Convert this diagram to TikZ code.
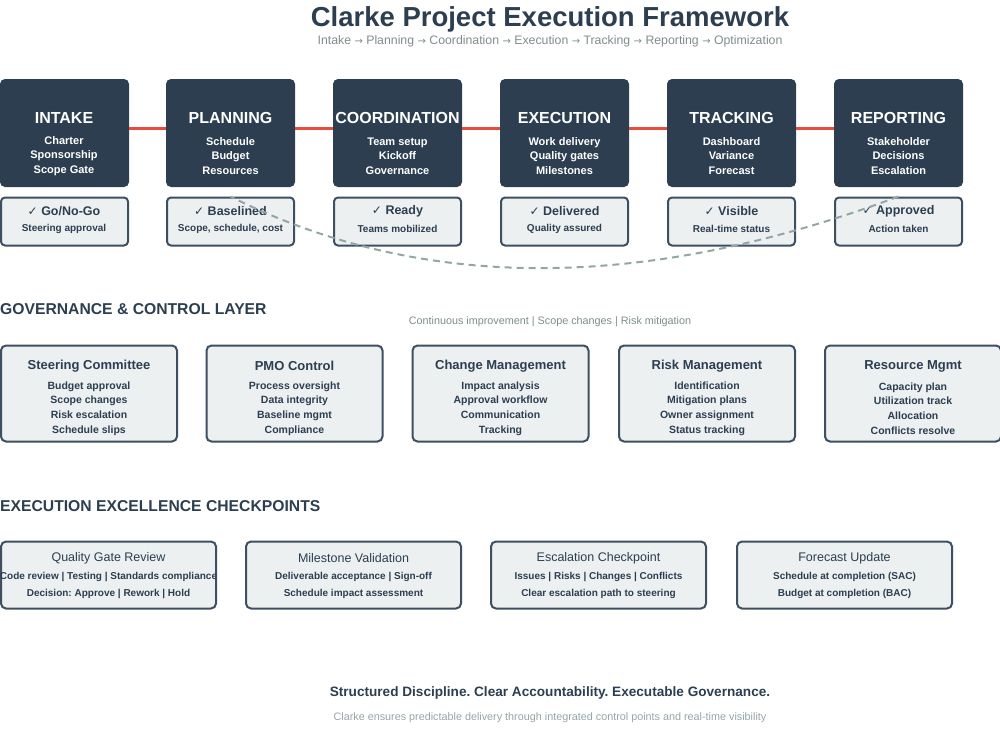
\documentclass[tikz,border=0pt]{standalone}
\usepackage{fontspec}
\setmainfont{Liberation Sans}
\newfontfamily\symfont{DejaVu Sans}
\definecolor{navy}{HTML}{2C3E50}
\definecolor{boxline}{HTML}{3D4F60}
\definecolor{boxfill}{HTML}{ECF0F1}
\definecolor{redline}{HTML}{E74C3C}
\definecolor{greytxt}{HTML}{7F8C8D}
\definecolor{lightgrey}{HTML}{95A5A6}
\definecolor{dashgrey}{HTML}{95A5A6}
\frenchspacing
\begin{document}
\begin{tikzpicture}[x=1pt,y=-1pt,
  every node/.style={inner sep=0pt},
  stagebox/.style={fill=navy, rounded corners=5pt, minimum width=129pt, minimum height=108pt},
  stagetitle/.style={text=white, font=\fontsize{16}{19}\selectfont\bfseries},
  stageitems/.style={text=white, align=center, font=\fontsize{11}{14.5}\selectfont\bfseries},
  checkbox/.style={draw=boxline, line width=2pt, fill=boxfill, rounded corners=4pt, minimum width=127pt, minimum height=48pt},
  checktitle/.style={text=navy, font=\fontsize{12.5}{15}\selectfont\bfseries},
  checksub/.style={text=navy, font=\fontsize{10}{12}\selectfont\bfseries},
  govbox/.style={draw=boxline, line width=2pt, fill=boxfill, rounded corners=5pt, minimum width=176pt, minimum height=96pt},
  govtitle/.style={text=navy, font=\fontsize{13}{15}\selectfont\bfseries},
  govitems/.style={text=navy, align=center, font=\fontsize{10.5}{14.7}\selectfont\bfseries},
  exbox/.style={draw=boxline, line width=2pt, fill=boxfill, rounded corners=5pt, minimum width=215pt, minimum height=67pt},
  extitle/.style={text=navy, font=\fontsize{12.5}{15}\selectfont},
  exitems/.style={text=navy, align=center, font=\fontsize{10}{17}\selectfont\bfseries},
  sectitle/.style={text=navy, anchor=west, font=\fontsize{15.7}{18}\selectfont\bfseries},
  link/.style={draw=redline, line width=3pt},
  loop/.style={draw=dashgrey, line width=2pt, dashed, dash pattern=on 7pt off 5pt}
]
\useasboundingbox (0,0) rectangle (1000,750);

% Title
\node[text=navy, font=\fontsize{27.5}{32}\selectfont\bfseries] (title) at (550,19.5) {Clarke Project Execution Framework};
\node[text=greytxt, font=\fontsize{12.3}{14}\selectfont] (subtitle) at (550,41.5) {Intake {\symfont\fontsize{10}{12}\selectfont →} Planning {\symfont\fontsize{10}{12}\selectfont →} Coordination {\symfont\fontsize{10}{12}\selectfont →} Execution {\symfont\fontsize{10}{12}\selectfont →} Tracking {\symfont\fontsize{10}{12}\selectfont →} Reporting {\symfont\fontsize{10}{12}\selectfont →} Optimization};

% Stage boxes
\node[stagebox] (s1) at (64.5,133) {};
\node[stagebox] (s2) at (230.5,133) {};
\node[stagebox] (s3) at (397.5,133) {};
\node[stagebox] (s4) at (564.5,133) {};
\node[stagebox] (s5) at (731.5,133) {};
\node[stagebox] (s6) at (898.5,133) {};

\draw[link] ([yshift=5pt]s1.east) -- ([yshift=5pt]s2.west);
\draw[link] ([yshift=5pt]s2.east) -- ([yshift=5pt]s3.west);
\draw[link] ([yshift=5pt]s3.east) -- ([yshift=5pt]s4.west);
\draw[link] ([yshift=5pt]s4.east) -- ([yshift=5pt]s5.west);
\draw[link] ([yshift=5pt]s5.east) -- ([yshift=5pt]s6.west);

\node[stagetitle] (t1) at (64,118) {INTAKE};
\node[stagetitle] (t2) at (230.5,118) {PLANNING};
\node[stagetitle] (t3) at (397.5,118) {COORDINATION};
\node[stagetitle] (t4) at (564.5,118) {EXECUTION};
\node[stagetitle] (t5) at (731.5,118) {TRACKING};
\node[stagetitle] (t6) at (898.5,118) {REPORTING};

\node[stageitems] (i1) at (64,156) {Charter\\Sponsorship\\Scope Gate};
\node[stageitems] (i2) at (230.5,156) {Schedule\\Budget\\Resources};
\node[stageitems] (i3) at (397.5,156) {Team setup\\Kickoff\\Governance};
\node[stageitems] (i4) at (564.5,156) {Work delivery\\Quality gates\\Milestones};
\node[stageitems] (i5) at (731.5,156) {Dashboard\\Variance\\Forecast};
\node[stageitems] (i6) at (898.5,156) {Stakeholder\\Decisions\\Escalation};

% Checkpoint boxes
\node[checkbox] (c1) at (64.5,221.5) {};
\node[checkbox] (c2) at (230.5,221.5) {};
\node[checkbox] (c3) at (397.5,221.5) {};
\node[checkbox] (c4) at (564.5,221.5) {};
\node[checkbox] (c5) at (731.5,221.5) {};
\node[checkbox] (c6) at (898.5,221.5) {};

\node[checktitle] (ct1) at (64,211.5) {{\symfont\fontsize{12}{14}\selectfont ✓} Go/No-Go};
\node[checktitle] (ct2) at (230.5,211.5) {{\symfont\fontsize{12}{14}\selectfont ✓} Baselined};
\node[checktitle] (ct3) at (397.5,211.5) {{\symfont\fontsize{12}{14}\selectfont ✓} Ready};
\node[checktitle] (ct4) at (564.5,211.5) {{\symfont\fontsize{12}{14}\selectfont ✓} Delivered};
\node[checktitle] (ct5) at (731.5,211.5) {{\symfont\fontsize{12}{14}\selectfont ✓} Visible};
\node[checktitle] (ct6) at (898.5,211.5) {{\symfont\fontsize{12}{14}\selectfont ✓} Approved};

\node[checksub] (cs1) at (64,228.5) {Steering approval};
\node[checksub] (cs2) at (230.5,228.5) {Scope, schedule, cost};
\node[checksub] (cs3) at (397.5,228.5) {Teams mobilized};
\node[checksub] (cs4) at (564.5,228.5) {Quality assured};
\node[checksub] (cs5) at (731.5,228.5) {Real-time status};
\node[checksub] (cs6) at (898.5,228.5) {Action taken};

% Feedback loop
\draw[loop] (c6.north) .. controls (643,292) and (421,292) .. (c2.north);

% Governance layer
\node[sectitle] (govhead) at (0,309) {GOVERNANCE \& CONTROL LAYER};
\node[text=greytxt, font=\fontsize{10.8}{13}\selectfont] (govnote) at (550,322) {Continuous improvement | Scope changes | Risk mitigation};

\node[govbox] (g1) at (89,393.5) {};
\node[govbox] (g2) at (294.5,393.5) {};
\node[govbox] (g3) at (500.5,393.5) {};
\node[govbox] (g4) at (707,393.5) {};
\node[govbox] (g5) at (913,393.5) {};

\node[govtitle] (gt1) at (89,366) {Steering Committee};
\node[govtitle] (gt2) at (294.5,366) {PMO Control};
\node[govtitle] (gt3) at (500.5,366) {Change Management};
\node[govtitle] (gt4) at (707,366) {Risk Management};
\node[govtitle] (gt5) at (913,366) {Resource Mgmt};

\node[govitems] (gi1) at (89,408.5) {Budget approval\\Scope changes\\Risk escalation\\Schedule slips};
\node[govitems] (gi2) at (294.5,408.5) {Process oversight\\Data integrity\\Baseline mgmt\\Compliance};
\node[govitems] (gi3) at (500.5,408.5) {Impact analysis\\Approval workflow\\Communication\\Tracking};
\node[govitems] (gi4) at (707,408.5) {Identification\\Mitigation plans\\Owner assignment\\Status tracking};
\node[govitems] (gi5) at (913,408.5) {Capacity plan\\Utilization track\\Allocation\\Conflicts resolve};

% Execution excellence checkpoints
\node[sectitle] (exhead) at (0,506) {EXECUTION EXCELLENCE CHECKPOINTS};

\node[exbox] (e1) at (108.5,575) {};
\node[exbox] (e2) at (353.5,575) {};
\node[exbox] (e3) at (598.5,575) {};
\node[exbox] (e4) at (844.5,575) {};

\node[extitle] (et1) at (108.5,558) {Quality Gate Review};
\node[extitle] (et2) at (353.5,558) {Milestone Validation};
\node[extitle] (et3) at (598.5,558) {Escalation Checkpoint};
\node[extitle] (et4) at (844.5,558) {Forecast Update};

\node[exitems] (ei1) at (108.5,585) {Code review | Testing | Standards compliance\\Decision: Approve | Rework | Hold};
\node[exitems] (ei2) at (353.5,585) {Deliverable acceptance | Sign-off\\Schedule impact assessment};
\node[exitems] (ei3) at (598.5,585) {Issues | Risks | Changes | Conflicts\\Clear escalation path to steering};
\node[exitems] (ei4) at (844.5,585) {Schedule at completion (SAC)\\Budget at completion (BAC)};

% Footer
\node[text=navy, font=\fontsize{13.6}{16}\selectfont\bfseries] (tagline) at (550,693) {Structured Discipline. Clear Accountability. Executable Governance.};
\node[text=lightgrey, font=\fontsize{10.8}{13}\selectfont] (footnote) at (550,718) {Clarke ensures predictable delivery through integrated control points and real-time visibility};
\end{tikzpicture}
\end{document}
